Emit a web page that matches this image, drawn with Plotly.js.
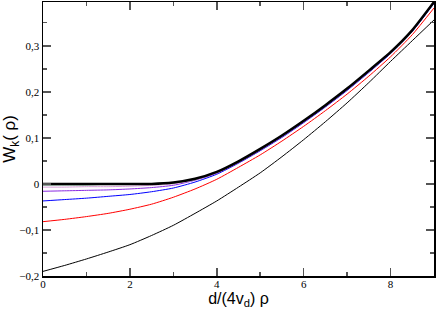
<!DOCTYPE html>
<html><head><meta charset="utf-8">
<script src="https://cdn.plot.ly/plotly-3.0.1.min.js"></script>
<style>html,body{margin:0;padding:0;background:#fff}#chart{width:436px;height:310px}</style>
</head><body><div id="chart"></div>
<script>
const xs = [0, 0.5, 1, 1.5, 2, 2.5, 3, 3.5, 4, 4.5, 5, 5.5, 6, 6.5, 7, 7.5, 8, 8.5, 9];
const wThin   = [-0.190, -0.177, -0.163, -0.148, -0.132, -0.112, -0.090, -0.064, -0.037, -0.007, 0.024, 0.059, 0.096, 0.135, 0.176, 0.220, 0.266, 0.311, 0.356];
const wRed    = [-0.082, -0.077, -0.071, -0.064, -0.055, -0.044, -0.029, -0.011, 0.010, 0.036, 0.063, 0.093, 0.125, 0.159, 0.195, 0.234, 0.276, 0.324, 0.382];
const wBlue   = [-0.037, -0.034, -0.031, -0.027, -0.023, -0.017, -0.009, 0.004, 0.021, 0.045, 0.072, 0.101, 0.133, 0.167, 0.203, 0.242, 0.283, 0.331, 0.392];
const wPurple = [-0.016, -0.015, -0.014, -0.013, -0.011, -0.008, -0.003, 0.008, 0.023, 0.046, 0.073, 0.102, 0.134, 0.168, 0.204, 0.243, 0.284, 0.332, 0.393];
const wPink   = [-0.007, -0.007, -0.006, -0.006, -0.005, -0.003, 0.000, 0.009, 0.024, 0.047, 0.074, 0.103, 0.135, 0.169, 0.205, 0.244, 0.285, 0.333, 0.394];
const wGreen  = [-0.002, -0.002, -0.002, -0.001, -0.001, 0.000, 0.002, 0.010, 0.025, 0.048, 0.075, 0.104, 0.136, 0.170, 0.206, 0.245, 0.285, 0.333, 0.394];
const wThick  = [0.000, 0.000, 0.000, 0.000, 0.000, 0.000, 0.003, 0.011, 0.026, 0.049, 0.076, 0.105, 0.137, 0.171, 0.207, 0.246, 0.286, 0.334, 0.395];

const series = [
  {y: wThin, color: '#000000', width: 1},
  {y: wRed, color: '#ff0000', width: 1},
  {y: wBlue, color: '#0000ff', width: 1},
  {y: wPurple, color: '#8a2be2', width: 1},
  {y: wPink, color: '#d8a0d8', width: 1},
  {y: wGreen, color: '#2e8b57', width: 1},
  {y: wThick, color: '#000000', width: 2.5}
];
const traces = series.map(s => ({
  x: xs, y: s.y, type: 'scatter', mode: 'lines',
  line: {color: s.color, width: s.width, shape: 'spline', smoothing: 0.6},
  hoverinfo: 'skip', showlegend: false
}));

const axisCommon = {
  showgrid: false, zeroline: false, showline: true, linecolor: '#000', linewidth: 1.5,
  mirror: 'allticks', ticks: 'inside', ticklen: 8, tickcolor: '#555', tickwidth: 1.5,
  tickfont: {family: '"Liberation Serif", "Times New Roman", serif', size: 11, color: '#000'}
};
const layout = {
  width: 436, height: 310,
  margin: {l: 43, r: 2, t: 2, b: 34},
  paper_bgcolor: '#fff', plot_bgcolor: '#fff',
  separators: ',.',
  xaxis: Object.assign({}, axisCommon, {
    range: [0, 9], tick0: 0, dtick: 2, ticklabelstandoff: -3,
    minor: {dtick: 1, ticks: 'inside', ticklen: 4, tickcolor: '#555', tickwidth: 1.5},
    title: {text: 'd/(4v<sub>d</sub>) ρ', font: {family: '"Liberation Sans", Arial, sans-serif', size: 16, color: '#000'}, standoff: 0}
  }),
  yaxis: Object.assign({}, axisCommon, {
    range: [-0.2, 0.395], tick0: 0, dtick: 0.1,
    minor: {dtick: 0.05, ticks: 'inside', ticklen: 4, tickcolor: '#555', tickwidth: 1.5},
    title: {text: 'W<sub>k</sub>( ρ)', font: {family: '"Liberation Sans", Arial, sans-serif', size: 17, color: '#000'}, standoff: 4}
  })
};
Plotly.newPlot('chart', traces, layout, {staticPlot: true, displayModeBar: false});
</script></body></html>
